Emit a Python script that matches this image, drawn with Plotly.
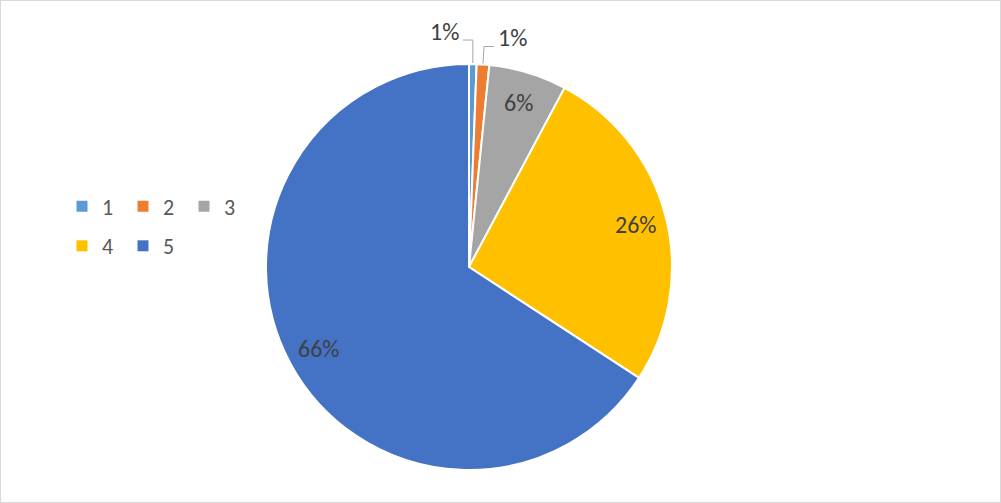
import math
import plotly.graph_objects as go

# ---- data ----
categories = ["1", "2", "3", "4", "5"]
shares = [0.6, 1.0, 6.2, 26.4, 65.8]
colors = ["#5B9BD5", "#ED7D31", "#A5A5A5", "#FFC000", "#4472C4"]
outside_labels = [True, True, False, False, False]

W, H = 1001, 503
CX, CY, R = 469, 267, 203  # pie centre / radius in px

FONT = "Calibri, Carlito, Lato, sans-serif"

fig = go.Figure()

fig.add_trace(go.Pie(
    labels=categories, values=shares, sort=False, direction="clockwise",
    rotation=0, marker=dict(colors=colors, line=dict(color="white", width=2)),
    textinfo="none", hoverinfo="label+percent", showlegend=False,
    domain=dict(x=[(CX - R) / W, (CX + R) / W], y=[1 - (CY + R) / H, 1 - (CY - R) / H]),
))

# legend entries (two rows, like the original)
for i, (cat, col) in enumerate(zip(categories, colors)):
    fig.add_trace(go.Scatter(
        x=[None], y=[None], mode="markers", name=cat,
        marker=dict(symbol="square", size=11, color=col),
        legend="legend" if i < 3 else "legend2", hoverinfo="skip",
    ))


def px_to_paper(px, py):
    return px / W, 1 - py / H


total = sum(shares)
cum = 0.0
annotations = []
shapes = []
side = -1
for cat, v, outside in zip(categories, shares, outside_labels):
    frac = v / total
    mid = (cum + frac / 2) * 2 * math.pi
    cum += frac
    pct = "{:.0f}%".format(round(frac * 100 + 1e-9)) if frac * 100 >= 0.5 else "0%"
    sx, sy = math.sin(mid), -math.cos(mid)
    if outside:
        rx, ry = CX + sx * R, CY + sy * R
        up = 24 if side < 0 else 18
        ex, ey = rx + (1 if side > 0 else 0), ry - up
        tx = ex + side * 10
        path = "M {} {} L {} {} L {} {}".format(*px_to_paper(rx, ry - 1), *px_to_paper(ex, ey), *px_to_paper(tx, ey))
        shapes.append(dict(type="path", path=path, xref="paper", yref="paper",
                           line=dict(color="#A6A6A6", width=1)))
        ax, ay = px_to_paper(tx + side * 2, ey - 9)
        annotations.append(dict(x=ax, y=ay, xref="paper", yref="paper", text=pct,
                                showarrow=False, xanchor="left" if side > 0 else "right",
                                yanchor="middle", font=dict(family=FONT, size=24, color="#404040")))
        side = -side
    else:
        rl = 0.845 * R
        ax, ay = px_to_paper(CX + sx * rl, CY + sy * rl)
        annotations.append(dict(x=ax, y=ay, xref="paper", yref="paper", text=pct,
                                showarrow=False, xanchor="center", yanchor="middle",
                                font=dict(family=FONT, size=24, color="#404040")))

shapes.append(dict(type="rect", xref="paper", yref="paper", x0=0, y0=0, x1=1, y1=1,
                   line=dict(color="#D9D9D9", width=2)))

legend_common = dict(orientation="h", xanchor="left", yanchor="middle",
                     font=dict(family=FONT, size=22, color="#595959"),
                     bgcolor="rgba(0,0,0,0)", entrywidth=16, itemclick=False,
                     itemdoubleclick=False)

fig.update_layout(
    width=W, height=H, margin=dict(l=0, r=0, t=0, b=0),
    paper_bgcolor="white", plot_bgcolor="white",
    xaxis=dict(visible=False), yaxis=dict(visible=False),
    legend=dict(x=62 / W, y=1 - 206.5 / H, **legend_common),
    legend2=dict(x=62 / W, y=1 - 246 / H, **legend_common),
    annotations=annotations, shapes=shapes,
)

fig.write_html("out.html", config={"displayModeBar": False},
               post_script="document.body.style.margin='0';document.body.style.overflow='hidden';")
